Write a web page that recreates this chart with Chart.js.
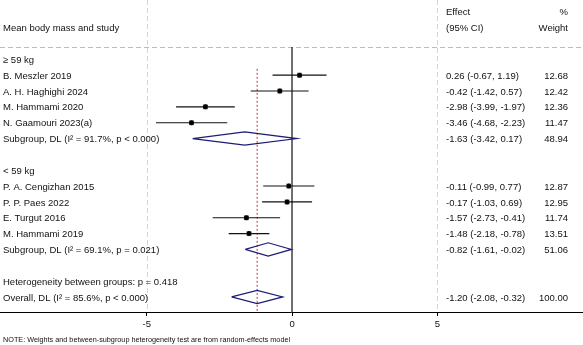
<!DOCTYPE html>
<html>
<head>
<meta charset="utf-8">
<script src="https://cdn.jsdelivr.net/npm/chart.js@4.4.0/dist/chart.umd.min.js"></script>
<style>
html,body{margin:0;padding:0;background:#fff;}
#wrap{width:583px;height:345px;position:relative;}
</style>
</head>
<body>
<div id="wrap"><canvas id="c" width="583" height="345"></canvas></div>
<script>
// ---- data ----
const studies = ["B. Meszler 2019", "A. H. Haghighi 2024", "M. Hammami 2020", "N. Gaamouri 2023(a)",
                 "P. A. Cengizhan 2015", "P. P. Paes 2022", "E. Turgut 2016", "M. Hammami 2019"];
const studyRows = [4, 5, 6, 7, 11, 12, 13, 14];
const effects = [0.26, -0.42, -2.98, -3.46, -0.11, -0.17, -1.57, -1.48];
const lowers  = [-0.67, -1.42, -3.99, -4.68, -0.99, -1.03, -2.73, -2.18];
const uppers  = [1.19, 0.57, -1.97, -2.23, 0.77, 0.69, -0.41, -0.78];
const weights = [12.68, 12.42, 12.36, 11.47, 12.87, 12.95, 11.74, 13.51];

const summaryLabels = ["Subgroup, DL (I\u00B2 = 91.7%, p < 0.000)", "Subgroup, DL (I\u00B2 = 69.1%, p = 0.021)", "Overall, DL (I\u00B2 = 85.6%, p < 0.000)"];
const summaryRows = [8, 15, 18];
const summaryEffects = [-1.63, -0.82, -1.20];
const summaryLowers = [-3.42, -1.61, -2.08];
const summaryUppers = [0.17, -0.02, -0.32];
const summaryWeights = ["48.94", "51.06", "100.00"];

const groupLabels = ["\u2265 59 kg", "< 59 kg", "Heterogeneity between groups: p = 0.418"];
const groupRows = [3, 10, 17];

const xTicks = [-5, 0, 5];
const overallEffect = -1.20;

const fmt = v => v.toFixed(2);
const FONT = '9.5px "Liberation Sans", Arial, Helvetica, sans-serif';
const Y_MIN = -0.745, Y_MAX = 18.95, HEADER_LINE = 2.22;

// ---- datasets ----
const datasets = [];
// zero line
datasets.push({type:'line', data:[{x:0,y:HEADER_LINE},{x:0,y:Y_MAX}], borderColor:'#111', borderWidth:1.2, pointRadius:0, order:5});
// overall dotted line
datasets.push({type:'line', data:[{x:overallEffect,y:3.6},{x:overallEffect,y:Y_MAX}], borderColor:'#b23a3a', borderWidth:1, borderDash:[2,2], pointRadius:0, order:6});
// CI lines
studies.forEach((s,i)=>{
  datasets.push({type:'line', data:[{x:lowers[i],y:studyRows[i]},{x:uppers[i],y:studyRows[i]}], borderColor:'#111', borderWidth:1.1, pointRadius:0, order:4});
});
// weight boxes
datasets.push({type:'scatter', data:effects.map((e,i)=>({x:e,y:studyRows[i]})), pointStyle:'rect', pointRadius:3.6, backgroundColor:'#9a9a9a', borderWidth:0, order:3});
// point estimates
datasets.push({type:'scatter', data:effects.map((e,i)=>({x:e,y:studyRows[i]})), pointStyle:'circle', pointRadius:2.5, backgroundColor:'#000', borderWidth:0, order:2});
// diamonds
const dh = 0.42;
summaryRows.forEach((r,i)=>{
  datasets.push({type:'line', data:[
    {x:summaryLowers[i],y:r},{x:summaryEffects[i],y:r-dh},{x:summaryUppers[i],y:r},{x:summaryEffects[i],y:r+dh},{x:summaryLowers[i],y:r}
  ], borderColor:'#1c1c78', borderWidth:1.2, pointRadius:0, tension:0, fill:false, order:1});
});

const textPlugin = {
  id:'forestText',
  beforeDatasetsDraw(chart){
    const ctx = chart.ctx, xs = chart.scales.x, ys = chart.scales.y;
    const bottom = chart.chartArea.bottom;
    ctx.save();
    ctx.strokeStyle = '#d4d4d4'; ctx.lineWidth = 1; ctx.setLineDash([5,3]);
    [-5, 5].forEach(v=>{
      const px = Math.round(xs.getPixelForValue(v))+0.5;
      ctx.beginPath(); ctx.moveTo(px, 0); ctx.lineTo(px, bottom); ctx.stroke();
    });
    const hy = Math.round(ys.getPixelForValue(HEADER_LINE))+0.5;
    ctx.strokeStyle = '#bdbdbd';
    ctx.beginPath(); ctx.moveTo(0, hy); ctx.lineTo(chart.width, hy); ctx.stroke();
    ctx.restore();
  },
  afterDraw(chart){
    const ctx = chart.ctx, ys = chart.scales.y;
    const L = 3, E = 446, W = 568;
    ctx.save();
    ctx.font = FONT; ctx.fillStyle = '#111'; ctx.textBaseline = 'middle';
    const put = (t, x, row, align) => { ctx.textAlign = align||'left'; ctx.fillText(t, x, ys.getPixelForValue(row) + 1); };
    put('Effect', E, 0); put('(95% CI)', E, 1);
    put('%', W, 0, 'right'); put('Weight', W, 1, 'right');
    put('Mean body mass and study', L, 1);
    groupLabels.forEach((g,i)=>put(g, L, groupRows[i]));
    studies.forEach((s,i)=>{
      put(s, L, studyRows[i]);
      put(fmt(effects[i])+' ('+fmt(lowers[i])+', '+fmt(uppers[i])+')', E, studyRows[i]);
      put(weights[i].toFixed(2), W, studyRows[i], 'right');
    });
    summaryLabels.forEach((s,i)=>{
      put(s, L, summaryRows[i]);
      put(fmt(summaryEffects[i])+' ('+fmt(summaryLowers[i])+', '+fmt(summaryUppers[i])+')', E, summaryRows[i]);
      put(summaryWeights[i], W, summaryRows[i], 'right');
    });
    ctx.font = '7.25px "Liberation Sans", Arial, sans-serif';
    ctx.textAlign = 'left';
    ctx.fillText('NOTE: Weights and between-subgroup heterogeneity test are from random-effects model', L, 340);
    ctx.restore();
  }
};

new Chart(document.getElementById('c'), {
  data:{datasets},
  options:{
    responsive:false, animation:false, maintainAspectRatio:false,
    layout:{autoPadding:false, padding:{left:0,right:1,top:0,bottom:0}},
    plugins:{legend:{display:false}, tooltip:{enabled:false}},
    scales:{
      x:{type:'linear', min:-10.05, max:9.98,
         afterBuildTicks(s){ s.ticks = xTicks.map(v=>({value:v})); },
         afterFit(s){ s.height = 33; s.paddingLeft = 0; s.paddingRight = 0; },
         grid:{display:true, drawOnChartArea:false, drawTicks:true, tickLength:4, color:'#000', lineWidth:1},
         border:{display:true, color:'#000', width:1},
         ticks:{color:'#111', padding:3, font:{family:'"Liberation Sans", Arial, sans-serif', size:9.5}, maxRotation:0, autoSkip:false}
      },
      y:{type:'linear', reverse:true, min:Y_MIN, max:Y_MAX, display:false}
    }
  },
  plugins:[textPlugin]
});
</script>
</body>
</html>
